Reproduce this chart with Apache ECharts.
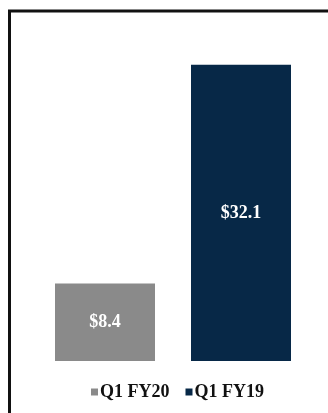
<!DOCTYPE html>
<html><head><meta charset="utf-8">
<style>html,body{margin:0;padding:0;background:#fff}#c{width:328px;height:413px}</style>
<script src="https://cdn.jsdelivr.net/npm/echarts@6/dist/echarts.min.js"></script>
</head><body><div id="c"></div>
<script>
const categories = [''];
const seriesNames = ['Q1 FY20', 'Q1 FY19'];
const valuesFY20 = [8.4];
const valuesFY19 = [32.1];
const colors = ['#8a8a8a', '#072847'];

const chart = echarts.init(document.getElementById('c'), null, {renderer: 'canvas'});
const labelStyle = {
  show: true, position: 'inside', color: '#fff',
  fontFamily: 'Liberation Serif', fontWeight: 'bold', fontSize: 18,
  formatter: p => '$' + p.value.toFixed(1)
};
chart.setOption({
  animation: false,
  graphic: [{
    type: 'rect', shape: {x: 9.5, y: 11, width: 340, height: 420},
    style: {fill: 'none', stroke: '#111', lineWidth: 3}, silent: true
  }],
  legend: {
    bottom: 7, left: 86, itemWidth: 7, itemHeight: 7, itemGap: 16,
    icon: 'rect',
    textStyle: {fontFamily: 'Liberation Serif', fontWeight: 'bold', fontSize: 18, color: '#111', padding: [0, 0, 0, -3]},
    data: seriesNames
  },
  grid: {left: 37, right: 19, top: 38, bottom: 52},
  xAxis: {type: 'category', data: categories, show: false},
  yAxis: {type: 'value', min: 0, max: 35, show: false},
  series: [
    {name: seriesNames[0], type: 'bar', data: valuesFY20, barWidth: 100, barGap: '36%',
     itemStyle: {color: colors[0]}, label: labelStyle},
    {name: seriesNames[1], type: 'bar', data: valuesFY19, barWidth: 100,
     itemStyle: {color: colors[1]}, label: labelStyle}
  ]
});
</script></body></html>
